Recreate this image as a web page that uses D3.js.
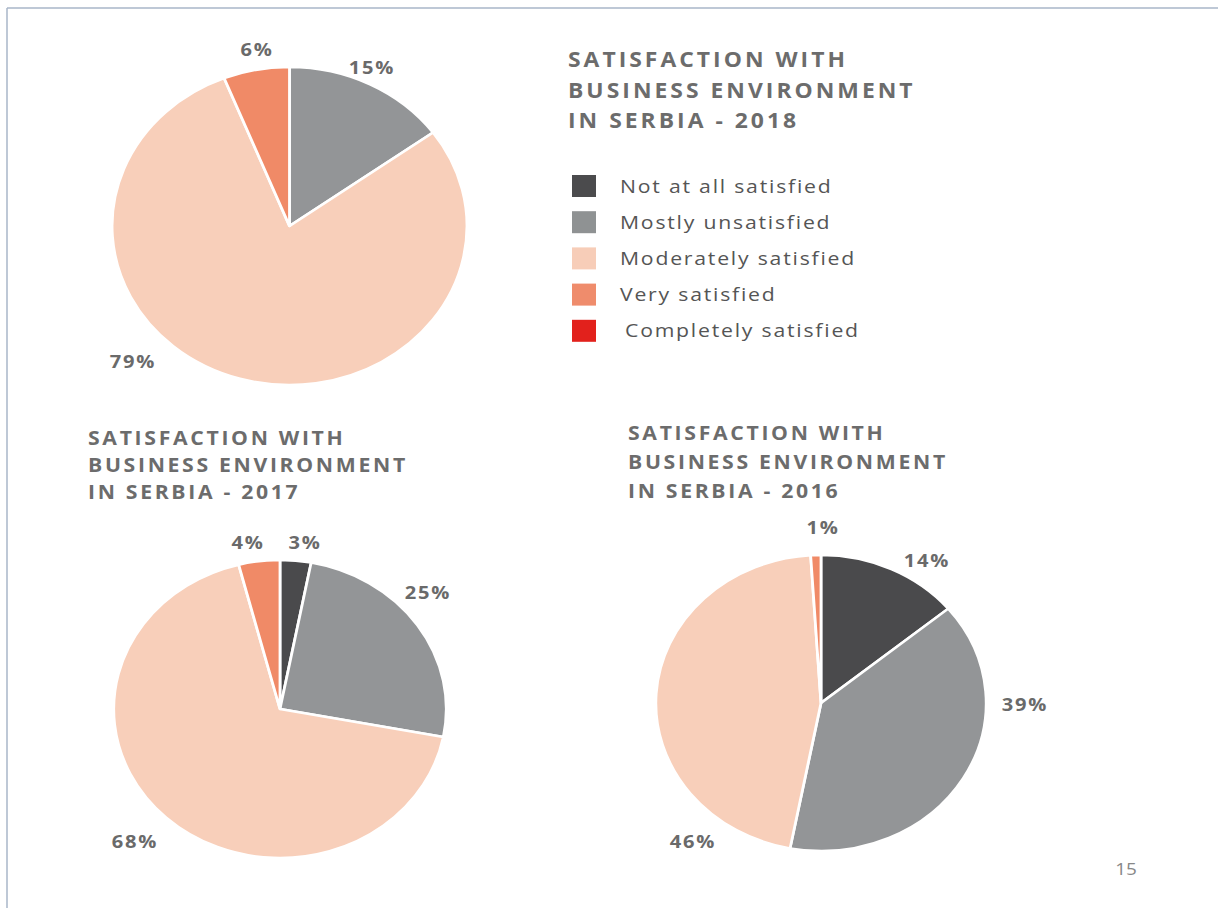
<!DOCTYPE html>
<html>
<head>
<meta charset="utf-8">
<script src="https://cdn.jsdelivr.net/npm/d3@7"></script>
<style>
  html, body { margin: 0; padding: 0; background: #fff; }
  svg { display: block; }
  text { font-family: "Open Sans", "Noto Sans", sans-serif; }
</style>
</head>
<body>
<svg id="chart" width="1218" height="908"></svg>
<script>
// ---------------- DATA ----------------
const categories = ["Not at all satisfied", "Mostly unsatisfied", "Moderately satisfied", "Very satisfied", "Completely satisfied"];
const values2018 = [0, 15, 79, 6, 0];
const values2017 = [3, 25, 68, 4, 0];
const values2016 = [14, 39, 46, 1, 0];
const titleLines2018 = ["SATISFACTION WITH", "BUSINESS ENVIRONMENT", "IN SERBIA - 2018"];
const titleLines2017 = ["SATISFACTION WITH", "BUSINESS ENVIRONMENT", "IN SERBIA - 2017"];
const titleLines2016 = ["SATISFACTION WITH", "BUSINESS ENVIRONMENT", "IN SERBIA - 2016"];
const pageNumber = "15";

// ---------------- STYLE / LAYOUT ----------------
const sliceColors = ["#4a4a4c", "#939597", "#f8cfba", "#f08a67", "#e2211c"];
const legendColors = ["#4b4b4d", "#8f9293", "#f7cdb8", "#ef8c6c", "#e2211c"];
const SX = 1.116; // horizontal stretch of the original picture

// layout in screen pixels
const pies = [
  { values: values2018, cx: 289.5, cy: 226, r: 159,
    labels: [null, [372, 68], [133, 362], [257, 50], null] },
  { values: values2017, cx: 280, cy: 709, r: 149,
    labels: [[305, 543], [428, 593], [135, 842], [248, 543], null] },
  { values: values2016, cx: 821, cy: 703, r: 148,
    labels: [[927, 561], [1025, 705], [693, 842], [823, 528], null] }
];
const titles = [
  { lines: titleLines2018, x: 568, y: 60, dy: 30.5, size: 20.5, ls: 2.7 },
  { lines: titleLines2017, x: 88, y: 438, dy: 27, size: 19, ls: 2.4 },
  { lines: titleLines2016, x: 628, y: 433, dy: 29, size: 19, ls: 2.4 }
];

const svg = d3.select("#chart");

// frame lines
svg.append("line").attr("x1", 7).attr("y1", 8).attr("x2", 1218).attr("y2", 8)
  .attr("stroke", "#a9b6c9").attr("stroke-width", 1.5);
svg.append("line").attr("x1", 7).attr("y1", 8).attr("x2", 7).attr("y2", 908)
  .attr("stroke", "#a9b6c9").attr("stroke-width", 1.5);

const g = svg.append("g").attr("transform", `scale(${SX},1)`);

const pie = d3.pie().sort(null).value(d => d);

pies.forEach(p => {
  const arc = d3.arc().innerRadius(0).outerRadius(p.r);
  const pg = g.append("g").attr("transform", `translate(${p.cx / SX},${p.cy})`);
  const arcs = pie(p.values);
  pg.selectAll("path")
    .data(arcs.filter(a => a.data > 0))
    .join("path")
    .attr("d", arc)
    .attr("fill", d => sliceColors[d.index])
    .attr("stroke", "#ffffff")
    .attr("stroke-width", 2.5)
    .attr("stroke-linejoin", "round");

  arcs.forEach((a, i) => {
    if (a.data > 0 && p.labels[i]) {
      g.append("text")
        .attr("x", p.labels[i][0] / SX)
        .attr("y", p.labels[i][1])
        .attr("dy", "0.35em")
        .attr("text-anchor", "middle")
        .attr("font-size", 18)
        .attr("font-weight", 700)
        .attr("letter-spacing", 1.6)
        .attr("fill", "#6a6a6a")
        .text(a.data + "%");
    }
  });
});

// titles
titles.forEach(t => {
  t.lines.forEach((line, i) => {
    g.append("text")
      .attr("x", t.x / SX)
      .attr("y", t.y + i * t.dy)
      .attr("dy", "0.35em")
      .attr("font-size", t.size)
      .attr("font-weight", 700)
      .attr("letter-spacing", t.ls)
      .attr("fill", "#6c6c6c")
      .text(line);
  });
});

// legend
const legY0 = 186, legDY = 36.2;
const leg = g.append("g");
categories.forEach((c, i) => {
  leg.append("rect")
    .attr("x", 572 / SX)
    .attr("y", legY0 + i * legDY - 11)
    .attr("width", 24 / SX)
    .attr("height", 22)
    .attr("fill", legendColors[i]);
  leg.append("text")
    .attr("x", (i === 4 ? 625 : 620) / SX)
    .attr("y", legY0 + i * legDY)
    .attr("dy", "0.35em")
    .attr("font-size", 19)
    .attr("font-weight", 500)
    .attr("letter-spacing", 1.6)
    .attr("fill", "#555555")
    .text(c);
});

// page number
g.append("text")
  .attr("x", 1126 / SX)
  .attr("y", 869)
  .attr("dy", "0.35em")
  .attr("text-anchor", "middle")
  .attr("font-size", 17)
  .attr("fill", "#888888")
  .text(pageNumber);
</script>
</body>
</html>
